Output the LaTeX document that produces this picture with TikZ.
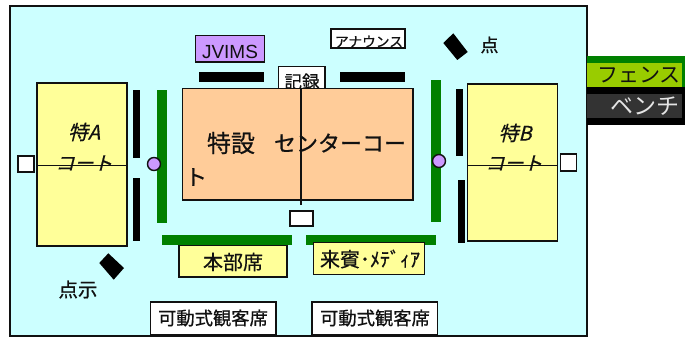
\documentclass[tikz,border=0pt]{standalone}
\usepackage{fontspec}
\setmainfont{Liberation Sans}
\newfontfamily\jp[FakeBold=0.6]{Noto Sans CJK JP}
\newfontfamily\jplight{Noto Sans CJK JP}
\newfontfamily\jpit[FakeSlant=0.25,FakeBold=0.6]{Noto Sans CJK JP}
\definecolor{water}{HTML}{CCFFFF}
\definecolor{fence}{HTML}{008000}
\definecolor{lime}{HTML}{99CC00}
\definecolor{pale}{HTML}{FFFF99}
\definecolor{tan}{HTML}{FFCC99}
\definecolor{lilac}{HTML}{CC99FF}
\definecolor{dark}{HTML}{333333}
\definecolor{ink}{HTML}{111111}
\tikzset{
  x=1pt,y=-1pt,
  box/.style={draw=ink,line width=1.5pt},
  whitebox/.style={box,fill=white},
  palebox/.style={box,fill=pale},
  fencebar/.style={fill=fence},
  benchbar/.style={fill=black},
  judge/.style={circle,draw=ink,line width=1.4pt,fill=lilac,minimum size=13pt,inner sep=0pt},
  label/.style={inner sep=0pt,text=ink},
  sz/.style={font=\jp\fontsize{#1}{#1}\selectfont},
  szlight/.style={font=\jplight\fontsize{#1}{#1}\selectfont},
  szit/.style={font=\jpit\fontsize{#1}{#1}\selectfont},
}
\begin{document}
\begin{tikzpicture}
\useasboundingbox (0,0) rectangle (685,337);
% ground
\draw[box,fill=water] (10,6) rectangle (587,336);
% legend
\fill[fence] (587,56) rectangle (685,87);
\fill[lime] (587,63) rectangle (682,87);
\fill[black] (587,87) rectangle (685,125);
\fill[dark] (587,94) rectangle (682,118);
\node[label,szlight=21] (fencelabel) at (639,75) {フェンス};
\node[label,szlight=23,text=white!90!black] (benchlabel) at (645,106) {ベンチ};
% side courts
\draw[palebox] (37,83) rectangle (127,246);
\node[label,szit=20] (sidea) at (84,132) {特\textit{A}};
\node[label,szit=19] (sideacourt) at (84,163) {コート};
\draw[ink,line width=1.1pt] (37,165.7) -- (127,165.7);
\draw[palebox] (467.5,84) rectangle (557.5,241);
\node[label,szit=20] (sideb) at (515,133) {特\textit{B}};
\node[label,szit=19] (sidebcourt) at (514,163) {コート};
\draw[ink,line width=1.1pt] (467.5,165.7) -- (557.5,165.7);
\draw[whitebox] (18,156) rectangle (34,172);
\draw[whitebox] (560.7,154) rectangle (576.7,171);
% benches
\fill[benchbar] (133,90) rectangle (140,158);
\fill[benchbar] (133,178) rectangle (140,241);
\fill[benchbar] (456,89) rectangle (463,156);
\fill[benchbar] (457.7,180) rectangle (464.7,242.6);
\fill[benchbar] (199,71.7) rectangle (264,81.7);
\fill[benchbar] (339.7,71.7) rectangle (405,81.7);
% fences
\fill[fencebar] (157,90) rectangle (167,223);
\fill[fencebar] (430.7,80) rectangle (441,221.7);
\fill[fencebar] (162,234.7) rectangle (291.7,245);
\fill[fencebar] (306,234.7) rectangle (435.7,245);
\node[judge] (judgeleft) at (154,164) {};
\node[judge] (judgeright) at (439,161) {};
% recorder
\draw[whitebox] (278.7,66.7) rectangle (325,92);
\node[label,sz=17.5] (record) at (302,81.5) {記録};
% centre court
\draw[box,fill=tan] (182.7,88.7) rectangle (413,200);
\node[label,sz=24] (settext) at (231,143) {特設};
\node[label,sz=22] (centertext) at (340,143) {センターコー};
\node[label,sz=22] (totext) at (196,177) {ト};
\draw[ink,line width=1.1pt] (301,88.7) -- (301,205);
\draw[whitebox] (290,211) rectangle (313,226);
% top labels
\draw[box,fill=lilac] (195.5,35.5) rectangle (264.5,62);
\node[inner sep=0pt,text=ink,font=\fontsize{19}{19}\selectfont] (jvims) at (230,52) {JVIMS};
\draw[whitebox] (331,29) rectangle (405,48);
\node[label,sz=13.7] (announce) at (369,41.5) {アナウンス};
% scoreboards
\fill[black] (453.3,33.3) -- (467.7,52) -- (457.3,60) -- (443.3,43) -- cycle;
\fill[black] (108.3,253.3) -- (124,268) -- (113.7,279.7) -- (99.3,263) -- cycle;
\node[label,sz=18] (pointa) at (489.5,45) {点};
\node[label,sz=19.5] (pointb) at (78,289.5) {点示};
% seats
\draw[palebox] (179,245.7) rectangle (287,277);
\node[label,sz=20] (hq) at (233,262) {本部席};
\draw[palebox] (313.7,242.7) rectangle (424.7,274.5);
\node[label,sz=20] (guest) at (370,259) {来賓･ﾒﾃﾞｨｱ};
\draw[whitebox] (150.7,302) rectangle (276,335);
\node[label,sz=18.3] (seata) at (213,318) {可動式観客席};
\draw[whitebox] (312,302) rectangle (437.7,335);
\node[label,sz=18.3] (seatb) at (375,318) {可動式観客席};
\end{tikzpicture}
\end{document}
